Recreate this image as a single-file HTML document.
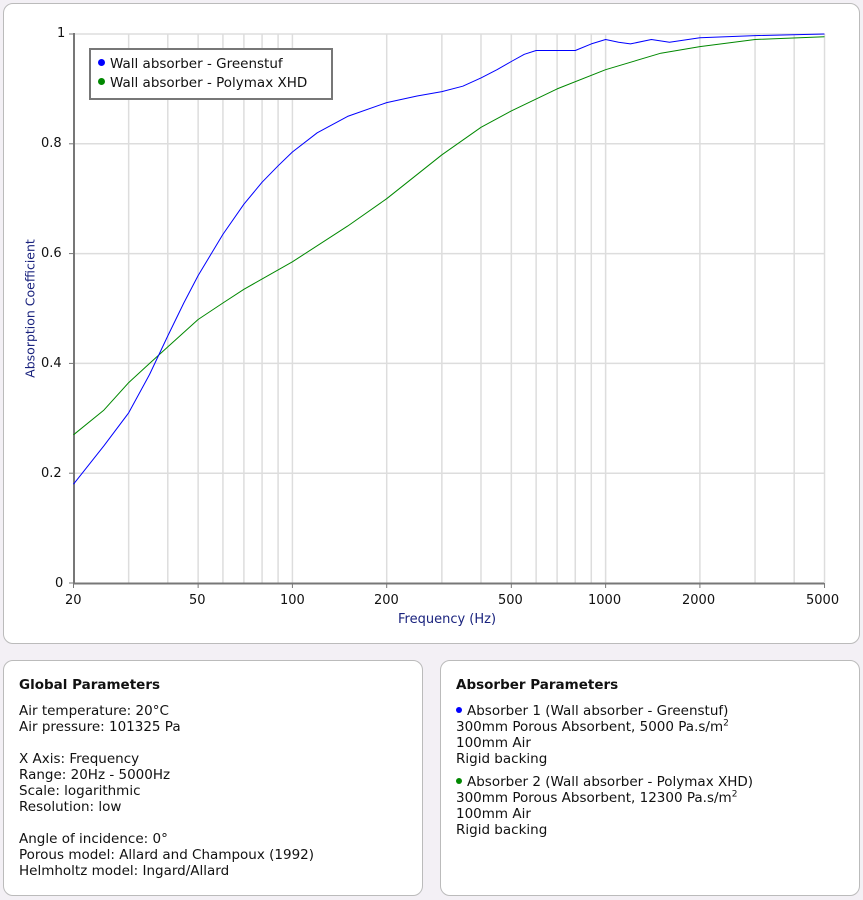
<!DOCTYPE html>
<html><head><meta charset="utf-8"><style>
body{margin:0;background:#f3f0f5;width:863px;height:900px;position:relative;font-family:"DejaVu Sans","Liberation Sans",sans-serif;font-size:13.5px;color:#111;overflow:hidden}
.panel{position:absolute;background:#fff;border:1px solid #bbb;border-radius:10px;box-sizing:border-box}
.t{position:absolute;white-space:nowrap;font-size:13px}
.p{position:absolute;left:15px;top:16px;line-height:16px}
.p b{display:block;margin-bottom:10px;font-size:13.5px}
.dot{display:inline-block;width:7px;height:7px;border-radius:50%;margin-right:5px;vertical-align:2px}
</style></head><body>
<div class="panel" style="left:3px;top:3px;width:857px;height:641px"></div>
<svg id="s" width="863" height="660" style="position:absolute;left:0;top:0"></svg>
<div class="t" style="left:57px;top:26px">1</div>
<div class="t" style="left:41px;top:136px">0.8</div>
<div class="t" style="left:41px;top:246px">0.6</div>
<div class="t" style="left:41px;top:356px">0.4</div>
<div class="t" style="left:41px;top:466px">0.2</div>
<div class="t" style="left:55px;top:576px">0</div>
<div class="t" style="left:65px;top:593px">20</div>
<div class="t" style="left:189px;top:593px">50</div>
<div class="t" style="left:280px;top:593px">100</div>
<div class="t" style="left:374px;top:593px">200</div>
<div class="t" style="left:498px;top:593px">500</div>
<div class="t" style="left:588px;top:593px">1000</div>
<div class="t" style="left:682px;top:593px">2000</div>
<div class="t" style="left:806px;top:593px">5000</div>
<div class="t" style="left:398px;top:612px;color:#1a237e">Frequency (Hz)</div>
<div class="t" style="left:-70px;top:301px;width:200px;text-align:center;transform:rotate(-90deg);color:#1a237e;font-size:12.5px">Absorption Coefficient</div>
<div class="t" style="left:89px;top:48px;width:244px;height:52px;border:2px solid #777;box-sizing:border-box;background:#fff;line-height:19px;padding:5px 0 0 7px;font-size:13.5px">
<span class="dot" style="background:#00f"></span>Wall absorber - Greenstuf<br><span class="dot" style="background:#080"></span>Wall absorber - Polymax XHD</div>
<div class="panel" style="left:3px;top:660px;width:420px;height:236px"><div class="p"><b>Global Parameters</b>Air temperature: 20°C<br>Air pressure: 101325 Pa<br><br>X Axis: Frequency<br>Range: 20Hz - 5000Hz<br>Scale: logarithmic<br>Resolution: low<br><br>Angle of incidence: 0°<br>Porous model: Allard and Champoux (1992)<br>Helmholtz model: Ingard/Allard</div></div>
<div class="panel" style="left:440px;top:660px;width:420px;height:236px"><div class="p"><b>Absorber Parameters</b><span class="dot" style="background:#00f;width:6px;height:6px"></span>Absorber 1 (Wall absorber - Greenstuf)<br>300mm Porous Absorbent, 5000 Pa.s/m<sup style="font-size:9px;line-height:0">2</sup><br>100mm Air<br>Rigid backing<br><div style="height:7px"></div><span class="dot" style="background:#080;width:6px;height:6px"></span>Absorber 2 (Wall absorber - Polymax XHD)<br>300mm Porous Absorbent, 12300 Pa.s/m<sup style="font-size:9px;line-height:0">2</sup><br>100mm Air<br>Rigid backing</div></div>
<script>
var s=document.getElementById('s'),h='';
function X(f){return 73.5+Math.log10(f/20)*313.2}
function Y(v){return 583-v*549}
var g=[30,40,50,60,70,80,90,100,200,300,400,500,600,700,800,900,1000,2000,3000,4000,5000];
g.forEach(function(f){h+='<line x1="'+X(f)+'" x2="'+X(f)+'" y1="34" y2="583" stroke="#ddd" stroke-width="1.5"/>'});
[0.2,0.4,0.6,0.8,1].forEach(function(v){h+='<line x1="73" x2="824" y1="'+Y(v)+'" y2="'+Y(v)+'" stroke="#ddd" stroke-width="1.5"/>'});
h+='<path d="M74 33V583.5H824" fill="none" stroke="#777" stroke-width="2"/>';
[0,0.2,0.4,0.6,0.8,1].forEach(function(v){h+='<line x1="69" x2="74" y1="'+Y(v)+'" y2="'+Y(v)+'" stroke="#777"/>'});
[20,50,100,200,500,1000,2000,5000].forEach(function(f){h+='<line x1="'+X(f)+'" x2="'+X(f)+'" y1="583" y2="588" stroke="#777"/>'});
var b=[[20,.18],[25,.25],[30,.31],[35,.38],[40,.45],[45,.51],[50,.56],[60,.635],[70,.69],[80,.73],[90,.76],[100,.785],[120,.82],[150,.85],[200,.875],[250,.887],[300,.895],[350,.905],[400,.92],[450,.935],[500,.95],[550,.963],[600,.97],[700,.97],[800,.97],[900,.982],[1000,.99],[1100,.985],[1200,.982],[1400,.99],[1600,.985],[2000,.993],[3000,.997],[5000,1]];
var gr=[[20,.27],[25,.315],[30,.365],[35,.40],[40,.43],[50,.48],[60,.51],[70,.535],[100,.585],[150,.65],[200,.70],[300,.78],[400,.83],[500,.86],[700,.90],[1000,.935],[1500,.965],[2000,.977],[3000,.99],[5000,.995]];
function P(a,c){return '<polyline fill="none" stroke="'+c+'" stroke-width="1" stroke-linejoin="round" points="'+a.map(function(p){return X(p[0]).toFixed(1)+','+Y(p[1]).toFixed(1)}).join(' ')+'"/>'}
h+=P(gr,'#080')+P(b,'#00f');
s.innerHTML=h;
</script>
</body></html>
